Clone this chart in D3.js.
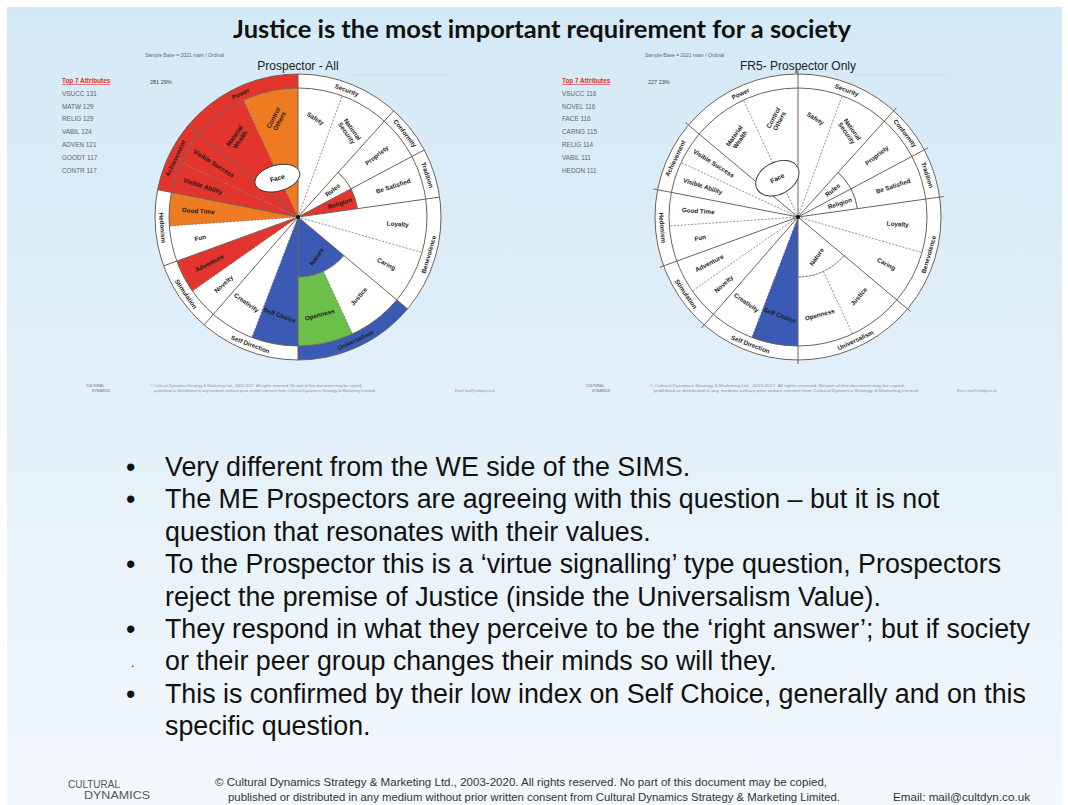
<!DOCTYPE html>
<html>
<head>
<meta charset="utf-8">
<script src="https://cdn.jsdelivr.net/npm/d3@7"></script>
<style>
  body { margin: 0; background: #fff; }
  svg { display: block; }
</style>
</head>
<body>
<div id="chart"></div>
<script>
// value groups round the wheel, clockwise from 12 o'clock, with their size in degrees
const groupNames = ["Security", "Conformity", "Tradition", "Benevolence", "Universalism",
  "Self Direction", "Stimulation", "Hedonism", "Achievement", "Power"];
const groupSpans = [42, 20, 20, 48, 50, 41, 29, 31, 29, 50];

// attributes inside the groups (ring: full wedge, inner part or outer part)
const attrNames = ["Safety", "National Security", "Rules", "Propriety", "Religion", "Be Satisfied",
  "Loyalty", "Caring", "Nature", "Justice", "Openness", "Self Choice", "Creativity", "Novelty",
  "Adventure", "Fun", "Good Time", "Visible Ability", "Visible Success", "Material Wealth", "Control Others"];
const attrGroups = [0, 0, 1, 1, 2, 2, 3, 3, 4, 4, 4, 5, 5, 6, 6, 7, 7, 8, 8, 9, 9];
const attrRings = ["full", "full", "inner", "outer", "inner", "outer", "full", "full", "inner", "outer",
  "outer", "full", "full", "full", "full", "full", "full", "full", "full", "full", "full"];
const attrSpans = [20, 22, 20, 20, 20, 20, 24, 24, 50, 25, 25, 21, 20, 14, 15, 16, 15, 14, 15, 25, 25];

// Prospector - All : index bands
const allRed = ["Visible Success", "Material Wealth", "Religion", "Visible Ability", "Adventure"];
const allOrange = ["Good Time", "Control Others"];
const allBlue = ["Self Choice", "Nature"];
const allGreen = ["Openness"];
const allBandRed = ["Power", "Achievement"];
const allBandBlue = ["Universalism"];
const allTopCodes = ["VSUCC", "MATW", "RELIG", "VABIL", "ADVEN", "GOODT", "CONTR"];
const allTopScores = [131, 129, 129, 124, 121, 117, 117];
const allBase = "281  29%";

// FR5 - Prospector Only
const onlyRed = [];
const onlyOrange = [];
const onlyBlue = ["Self Choice"];
const onlyGreen = [];
const onlyBandRed = [];
const onlyBandBlue = [];
const onlyTopCodes = ["VSUCC", "NOVEL", "FACE", "CARNG", "RELIG", "VABIL", "HEDON"];
const onlyTopScores = [116, 116, 116, 115, 114, 111, 111];
const onlyBase = "227  23%";

const bullets = [
  ["Very different from the WE side of the SIMS."],
  ["The ME Prospectors are agreeing with this question \u2013 but it is not",
   "question that resonates with their values."],
  ["To the Prospector this is a \u2018virtue signalling\u2019 type question, Prospectors",
   "reject the premise of Justice (inside the Universalism Value)."],
  ["They respond in what they perceive to be the \u2018right answer\u2019; but if society",
   "or their peer group changes their minds so will they."],
  ["This is confirmed by their low index on Self Choice, generally and on this",
   "specific question."]
];

const width = 1068, height = 805;
const palette = { red: "#e3352e", orange: "#ee7b22", blue: "#3a5ab4", green: "#6cbf48", none: "#ffffff" };
const lineCol = "#6e6259";

const svg = d3.select("#chart").append("svg")
  .attr("width", width).attr("height", height)
  .attr("viewBox", `0 0 ${width} ${height}`);

// slide background
const defs = svg.append("defs");
const grad = defs.append("linearGradient").attr("id", "bg").attr("x1", 0).attr("y1", 0).attr("x2", 0).attr("y2", 1);
grad.append("stop").attr("offset", "0%").attr("stop-color", "#d4e9f6");
grad.append("stop").attr("offset", "50%").attr("stop-color", "#e2f0f9");
grad.append("stop").attr("offset", "100%").attr("stop-color", "#f3f8fc");
svg.append("rect").attr("x", 7).attr("y", 7).attr("width", width - 13).attr("height", height - 7)
  .attr("fill", "url(#bg)");

// title, fitted to the width of the original
const title = svg.append("text")
  .attr("x", 542).attr("y", 38)
  .attr("text-anchor", "middle")
  .attr("font-family", "Lato, 'Open Sans', sans-serif")
  .attr("font-weight", "bold")
  .attr("font-size", 20)
  .attr("fill", "#111")
  .text("Justice is the most important requirement for a society");
const tl = title.node().getComputedTextLength();
title.attr("font-size", 20 * 618 / tl);

// angle / radius scales
const angle = d3.scaleLinear().domain([0, 360]).range([0, 2 * Math.PI]);
const radius = d3.scaleOrdinal().domain(["center", "split", "attr", "band", "tick"]).range([0, 60, 129, 143, 147]);
const ringR = { full: ["center", "attr"], inner: ["center", "split"], outer: ["split", "attr"] };

const groupStart = groupSpans.map((d, i) => d3.sum(groupSpans.slice(0, i)));

const cursor = groupNames.map((g, i) => ({ inner: groupStart[i], outer: groupStart[i] }));
const attrs = attrNames.map((name, i) => {
  const c = cursor[attrGroups[i]];
  const ring = attrRings[i];
  const start = ring === "outer" ? c.outer : c.inner;
  const end = start + attrSpans[i];
  if (ring !== "outer") c.inner = end;
  if (ring !== "inner") c.outer = end;
  return { name, ring, start, end, group: attrGroups[i] };
});

// a few labels that are not laid along the radius in the original
const labelTilt = { "Safety": 33, "National Security": 55, "Control Others": -62, "Material Wealth": -55,
  "Justice": -50, "Openness": -15, "Nature": -55, "Self Choice": 20, "Creativity": 35 };
const twoLine = { "National Security": ["National", "Security"], "Material Wealth": ["Material", "Wealth"],
  "Control Others": ["Control", "Others"] };

function norm(a) {
  while (a > 90) a -= 180;
  while (a < -90) a += 180;
  return a;
}

function polar(a, r) {
  const t = angle(a);
  return [r * Math.sin(t), -r * Math.cos(t)];
}

function drawWheel(cx, cy, opt) {
  const g = svg.append("g").attr("transform", `translate(${cx},${cy})`);
  const arc = d3.arc();

  const fillOf = name => opt.red.includes(name) ? palette.red : opt.orange.includes(name) ? palette.orange
    : opt.blue.includes(name) ? palette.blue : opt.green.includes(name) ? palette.green : palette.none;
  const bandOf = name => opt.bandRed.includes(name) ? palette.red : opt.bandBlue.includes(name) ? palette.blue : palette.none;

  // outer band of value groups
  g.selectAll(".band").data(groupNames).enter().append("path")
    .attr("class", "band")
    .attr("d", (d, i) => arc({ innerRadius: radius("attr"), outerRadius: radius("band"),
      startAngle: angle(groupStart[i]), endAngle: angle(groupStart[i] + groupSpans[i]) }))
    .attr("fill", d => bandOf(d));

  // attribute wedges
  g.selectAll(".attr").data(attrs).enter().append("path")
    .attr("class", "attr")
    .attr("d", d => arc({ innerRadius: radius(ringR[d.ring][0]), outerRadius: radius(ringR[d.ring][1]),
      startAngle: angle(d.start), endAngle: angle(d.end) }))
    .attr("fill", d => fillOf(d.name));

  // dashed dividers between attributes of one group
  g.selectAll(".div").data(attrs.filter(d => d.start !== groupStart[d.group])).enter().append("line")
    .attr("x1", d => polar(d.start, radius(ringR[d.ring][0]))[0])
    .attr("y1", d => polar(d.start, radius(ringR[d.ring][0]))[1])
    .attr("x2", d => polar(d.start, radius(ringR[d.ring][1]))[0])
    .attr("y2", d => polar(d.start, radius(ringR[d.ring][1]))[1])
    .attr("stroke", lineCol).attr("stroke-width", 0.7).attr("stroke-dasharray", "2,1.5");

  // inner / outer split arcs
  g.selectAll(".split").data(attrs.filter(d => d.ring === "inner")).enter().append("path")
    .attr("d", d => d3.arc()({ innerRadius: radius("split"), outerRadius: radius("split"),
      startAngle: angle(d.start), endAngle: angle(d.end) }))
    .attr("fill", "none").attr("stroke", lineCol).attr("stroke-width", 0.7)
    .attr("stroke-dasharray", d => d.name === "Nature" ? "2,1.5" : null);

  // rings
  g.selectAll(".ring").data(["attr", "band"]).enter().append("circle")
    .attr("r", d => radius(d)).attr("fill", "none").attr("stroke", lineCol).attr("stroke-width", 1);

  // group boundaries
  g.selectAll(".gline").data(groupStart).enter().append("line")
    .attr("x1", 0).attr("y1", 0)
    .attr("x2", d => polar(d, radius(opt.tick))[0])
    .attr("y2", d => polar(d, radius(opt.tick))[1])
    .attr("stroke", lineCol).attr("stroke-width", 1);

  // group labels in the band
  g.selectAll(".glabel").data(groupNames).enter().append("text")
    .attr("transform", (d, i) => {
      const a = groupStart[i] + groupSpans[i] / 2;
      const p = polar(a, (radius("attr") + radius("band")) / 2);
      return `translate(${p[0]},${p[1]}) rotate(${norm(a)})`;
    })
    .attr("text-anchor", "middle").attr("dy", "0.35em")
    .attr("font-family", "'Liberation Sans', Arial, sans-serif").attr("font-weight", "bold")
    .attr("font-size", 6.3).attr("fill", "#222")
    .text(d => d);

  // attribute labels
  const lab = g.selectAll(".alabel").data(attrs).enter().append("text")
    .attr("transform", d => {
      const a = (d.start + d.end) / 2;
      const r = d.ring === "inner" ? 44 : 100;
      const p = polar(a, r);
      const rot = labelTilt[d.name] !== undefined ? labelTilt[d.name] : norm(a - 90);
      return `translate(${p[0]},${p[1]}) rotate(${rot})`;
    })
    .attr("text-anchor", "middle")
    .attr("font-family", "'Liberation Sans', Arial, sans-serif").attr("font-weight", "bold")
    .attr("font-size", 6.3).attr("fill", "#1a1a1a");
  lab.each(function (d) {
    const lines = twoLine[d.name] || [d.name];
    const t = d3.select(this);
    lines.forEach((l, k) => {
      t.append("tspan").attr("x", 0)
        .attr("dy", k === 0 ? `${0.35 - (lines.length - 1) * 0.55}em` : "1.1em")
        .text(l);
    });
  });

  // Face ellipse
  const fp = polar(332, 44);
  const face = g.append("g").attr("transform", `translate(${fp[0]},${fp[1]}) rotate(${opt.faceTilt})`);
  face.append("ellipse").attr("rx", 23).attr("ry", opt.faceRy).attr("fill", "#fff")
    .attr("stroke", "#333").attr("stroke-width", 0.9);
  face.append("text").attr("text-anchor", "middle").attr("dy", "0.35em")
    .attr("font-family", "'Liberation Sans', Arial, sans-serif").attr("font-weight", "bold")
    .attr("font-size", 6.5).attr("fill", "#111").text("Face");

  g.append("circle").attr("r", 2).attr("fill", "#111");

  // headings
  svg.append("text").attr("x", cx).attr("y", 70).attr("text-anchor", "middle")
    .attr("font-family", "'Liberation Sans', Arial, sans-serif").attr("font-size", 12).attr("fill", "#222")
    .text(opt.title);
  svg.append("text").attr("x", opt.noteX).attr("y", 57)
    .attr("font-family", "'Liberation Sans', Arial, sans-serif").attr("font-size", 5).attr("fill", "#666")
    .text("Sample   Base = 2021 main / Ordinal");
  svg.append("line").attr("x1", cx + 55).attr("x2", cx + 150).attr("y1", 75).attr("y2", 75)
    .attr("stroke", "#cfd9e0").attr("stroke-width", 0.8);
  svg.append("text").attr("x", opt.baseX).attr("y", 84)
    .attr("font-family", "'Liberation Sans', Arial, sans-serif").attr("font-size", 5.5).attr("fill", "#444")
    .text(opt.base);

  // top attributes list
  const list = svg.append("g").attr("transform", `translate(${opt.listX},83)`)
    .attr("font-family", "'Liberation Sans', Arial, sans-serif").attr("font-size", 6.4);
  list.append("text").attr("fill", "#e0302a").attr("font-weight", "bold")
    .attr("text-decoration", "underline").text("Top 7 Attributes");
  list.selectAll(".item").data(opt.codes).enter().append("text")
    .attr("y", (d, i) => 12.8 * (i + 1)).attr("fill", "#666")
    .text((d, i) => `${d}   ${opt.scores[i]}`);

  // small footer under the wheel
  const ft = svg.append("g").attr("font-family", "'Liberation Sans', Arial, sans-serif")
    .attr("font-size", 3.4).attr("fill", "#8a96a0");
  ft.append("text").attr("x", opt.listX + 24).attr("y", 387).attr("font-weight", "bold").text("CULTURAL");
  ft.append("text").attr("x", opt.listX + 30).attr("y", 392).attr("font-weight", "bold").text("DYNAMICS");
  ft.append("text").attr("x", opt.listX + 88).attr("y", 387).attr("textLength", opt.ftW)
    .attr("lengthAdjust", "spacingAndGlyphs")
    .text("\u00a9 Cultural Dynamics Strategy & Marketing Ltd., 2003-2017. All rights reserved. No part of this document may be copied,");
  ft.append("text").attr("x", opt.listX + 92).attr("y", 392).attr("textLength", opt.ftW + 10)
    .attr("lengthAdjust", "spacingAndGlyphs")
    .text("published or distributed in any medium without prior written consent from Cultural Dynamics Strategy & Marketing Limited.");
  ft.append("text").attr("x", opt.mailX).attr("y", 392).text("Email: mail@cultdyn.co.uk");
}

drawWheel(298, 217, {
  title: "Prospector - All", red: allRed, orange: allOrange, blue: allBlue, green: allGreen,
  bandRed: allBandRed, bandBlue: allBandBlue, codes: allTopCodes, scores: allTopScores, base: allBase,
  tick: "band", faceTilt: -15, faceRy: 13, noteX: 145, baseX: 150, listX: 62, ftW: 212, mailX: 455
});
drawWheel(798, 217, {
  title: "FR5- Prospector Only", red: onlyRed, orange: onlyOrange, blue: onlyBlue, green: onlyGreen,
  bandRed: onlyBandRed, bandBlue: onlyBandBlue, codes: onlyTopCodes, scores: onlyTopScores, base: onlyBase,
  tick: "tick", faceTilt: -28, faceRy: 16, noteX: 645, baseX: 648, listX: 562, ftW: 255, mailX: 957
});

// bullet text
const body = svg.append("g").attr("font-family", "'Liberation Sans', Arial, sans-serif")
  .attr("font-size", 26.8).attr("fill", "#111");
let row = 0;
bullets.forEach(b => {
  body.append("text").attr("x", 126).attr("y", 476 + row * 32.4).text("\u2022");
  b.forEach(line => {
    body.append("text").attr("x", 165).attr("y", 476 + row * 32.4).text(line);
    row++;
  });
});
body.append("text").attr("x", 131).attr("y", 667).attr("font-size", 12).text(".");

// footer
const foot = svg.append("g").attr("font-family", "'Liberation Sans Narrow', 'Liberation Sans', Arial, sans-serif")
  .attr("fill", "#333").attr("font-size", 10.5);
foot.append("text").attr("x", 215).attr("y", 786).attr("textLength", 612).attr("lengthAdjust", "spacingAndGlyphs")
  .text("\u00a9 Cultural Dynamics Strategy & Marketing Ltd., 2003-2020.  All rights reserved.  No part of this document may be copied,");
foot.append("text").attr("x", 228).attr("y", 801).attr("textLength", 612).attr("lengthAdjust", "spacingAndGlyphs")
  .text("published or distributed in any medium without prior written consent from Cultural Dynamics Strategy & Marketing Limited.");
foot.append("text").attr("x", 893).attr("y", 801).attr("textLength", 137).attr("lengthAdjust", "spacingAndGlyphs")
  .text("Email: mail@cultdyn.co.uk");
const logo = svg.append("g").attr("font-family", "'Liberation Sans Narrow', 'Liberation Sans', Arial, sans-serif")
  .attr("fill", "#555").attr("font-size", 11);
logo.append("text").attr("x", 68).attr("y", 788).attr("textLength", 52).attr("lengthAdjust", "spacingAndGlyphs").text("CULTURAL");
logo.append("text").attr("x", 84).attr("y", 799).attr("textLength", 66).attr("lengthAdjust", "spacingAndGlyphs").text("DYNAMICS");
</script>
</body>
</html>
